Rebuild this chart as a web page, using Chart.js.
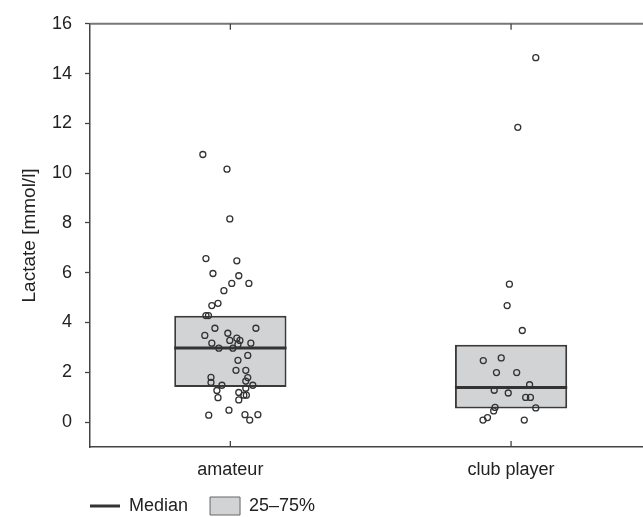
<!DOCTYPE html>
<html>
<head>
<meta charset="utf-8">
<script src="https://cdn.jsdelivr.net/npm/chart.js@4/dist/chart.umd.min.js"></script>
<style>
  html, body { margin: 0; padding: 0; background: #fff; overflow: hidden; }
  #wrap { width: 643px; height: 517px; }
</style>
</head>
<body>
<div id="wrap"><canvas id="chart"></canvas></div>
<script>
var groups = ['amateur', 'club player'];
var yTicks = [0, 2, 4, 6, 8, 10, 12, 14, 16];
var legendLabels = ['Median', '25\u201375%'];

// box statistics per group
var q1 = [1.41, 0.55];
var q3 = [4.27, 3.11];
var medians = [2.98, 1.39];

// individual (jittered) observations
var amateurX = [0.902,0.988,0.998,0.913,1.023,0.938,1.030,1.005,1.066,0.977,0.934,0.956,0.913,0.922,0.945,1.091,0.909,0.991,1.023,1.034,0.998,0.934,1.073,1.027,0.959,1.009,1.062,1.027,1.020,1.055,0.931,1.062,0.931,1.055,0.970,1.080,1.055,0.952,1.030,1.048,1.057,0.956,1.030,0.995,0.923,1.052,1.098,1.069];
var amateurY = [10.75,10.16,8.16,6.57,6.48,5.97,5.88,5.57,5.57,5.28,4.68,4.77,4.28,4.28,3.77,3.77,3.48,3.57,3.37,3.28,3.28,3.17,3.17,3.12,2.97,2.97,2.68,2.48,2.08,2.08,1.80,1.79,1.59,1.65,1.48,1.48,1.36,1.27,1.19,1.08,1.08,0.98,0.89,0.48,0.28,0.30,0.30,0.08];
var clubX = [2.088,2.024,1.994,1.986,2.040,1.901,1.965,1.948,2.020,2.066,1.940,1.990,2.052,2.069,2.088,1.943,1.938,1.900,1.916,2.047];
var clubY = [14.64,11.84,5.54,4.68,3.68,2.47,2.58,1.99,1.99,1.50,1.28,1.17,0.99,0.99,0.57,0.59,0.45,0.08,0.18,0.08];

function pts(xs, ys) {
  return xs.map(function(x, i) { return {x: x, y: ys[i]}; });
}

var boxHalf = 0.2;
var boxData = groups.map(function(g, i) { return {x: i + 1, y: [q1[i], q3[i]]}; });
var medianData = [];
medians.forEach(function(m, i) {
  medianData.push({x: i + 1 - boxHalf, y: m}, {x: i + 1 + boxHalf, y: m}, {x: i + 1.5, y: null});
});

var font = "'Liberation Sans', Arial, sans-serif";
var textColor = '#222';

// top frame line + inward category ticks
var framePlugin = {
  id: 'frame',
  afterDatasetsDraw: function(chart) {
    var ctx = chart.ctx, a = chart.chartArea, xs = chart.scales.x;
    ctx.save();
    ctx.strokeStyle = '#777';
    ctx.lineWidth = 2;
    ctx.beginPath();
    ctx.moveTo(a.left, a.top);
    ctx.lineTo(a.right, a.top);
    ctx.stroke();
    ctx.strokeStyle = '#444';
    ctx.lineWidth = 1.3;
    groups.forEach(function(g, i) {
      var px = xs.getPixelForValue(i + 1);
      ctx.beginPath();
      ctx.moveTo(px, a.bottom); ctx.lineTo(px, a.bottom - 6);
      ctx.moveTo(px, a.top); ctx.lineTo(px, a.top + 6);
      ctx.stroke();
    });
    ctx.restore();
  },
  afterLayout: function(chart) {
    chart.legend.left = chart.chartArea.left - 22;
    chart.legend.top = 475;
  }
};

new Chart(document.getElementById('chart'), {
  type: 'scatter',
  data: {
    datasets: [
      {
        label: 'amateur',
        data: pts(amateurX, amateurY),
        order: 1,
        pointRadius: 3,
        pointBorderWidth: 1.3,
        borderColor: '#333',
        backgroundColor: 'rgba(0,0,0,0)'
      },
      {
        label: 'club player',
        data: pts(clubX, clubY),
        order: 1,
        pointRadius: 3,
        pointBorderWidth: 1.3,
        borderColor: '#333',
        backgroundColor: 'rgba(0,0,0,0)'
      },
      {
        type: 'line',
        label: legendLabels[0],
        data: medianData,
        order: 2,
        borderColor: '#333',
        borderWidth: 3,
        pointRadius: 0,
        spanGaps: false
      },
      {
        type: 'bar',
        label: legendLabels[1],
        data: boxData,
        order: 3,
        backgroundColor: '#d2d3d5',
        borderColor: '#3a3a3a',
        borderWidth: 2,
        borderSkipped: false,
        categoryPercentage: 0.4,
        barPercentage: 1.0
      }
    ]
  },
  options: {
    responsive: true,
    maintainAspectRatio: false,
    animation: false,
    devicePixelRatio: 1,
    layout: { autoPadding: false, padding: { top: 22, right: 0, left: 0, bottom: -20 } },
    plugins: {
      tooltip: { enabled: false },
      legend: {
        position: 'bottom',
        align: 'start',
        labels: {
          usePointStyle: true,
          pointStyleWidth: 30,
          padding: 22,
          color: textColor,
          font: { family: font, size: 18 },
          generateLabels: function() {
            return [
              { text: legendLabels[0], pointStyle: 'line', strokeStyle: '#333', fillStyle: '#333', lineWidth: 3, fontColor: textColor, datasetIndex: 2 },
              { text: legendLabels[1], pointStyle: 'rect', strokeStyle: '#666', fillStyle: '#d2d3d5', lineWidth: 1, fontColor: textColor, datasetIndex: 3 }
            ];
          }
        }
      }
    },
    scales: {
      x: {
        type: 'linear',
        offset: false,
        min: 0.5,
        max: 2.47,
        afterBuildTicks: function(scale) {
          scale.ticks = groups.map(function(g, i) { return {value: i + 1}; });
        },
        afterFit: function(scale) { scale.height = 40; },
        ticks: {
          padding: 12,
          maxRotation: 0,
          color: textColor,
          font: { family: font, size: 18 },
          callback: function(v) { return groups[Math.round(v) - 1]; }
        },
        grid: { display: false, drawTicks: false, offset: false },
        border: { display: true, color: '#444', width: 1.5 }
      },
      y: {
        min: -1,
        max: 16,
        afterBuildTicks: function(scale) {
          scale.ticks = yTicks.map(function(v) { return {value: v}; });
        },
        afterFit: function(scale) { scale.width = 90; },
        ticks: {
          padding: 13,
          color: textColor,
          font: { family: font, size: 18 }
        },
        grid: { drawOnChartArea: false, drawTicks: true, tickLength: 5, tickColor: '#444', tickWidth: 1.3 },
        border: { display: true, color: '#444', width: 1.5 },
        title: {
          display: true,
          text: 'Lactate [mmol/l]',
          color: textColor,
          font: { family: font, size: 19 },
          padding: { top: 18, bottom: 0 }
        }
      }
    }
  },
  plugins: [framePlugin]
});
</script>
</body>
</html>
